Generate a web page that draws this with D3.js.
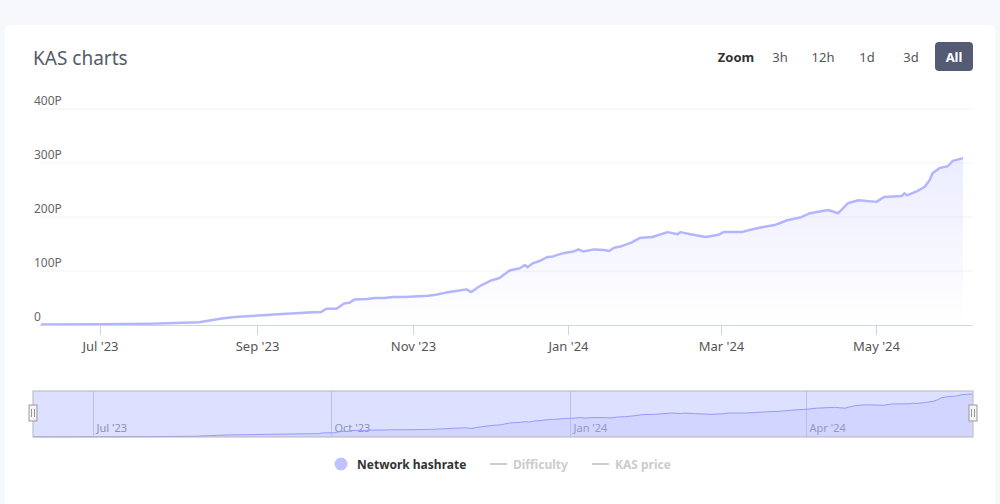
<!DOCTYPE html>
<html>
<head>
<meta charset="utf-8">
<script src="https://cdn.jsdelivr.net/npm/d3@7"></script>
<style>
  body { margin: 0; background: #f7f8fc; font-family: "Noto Sans", sans-serif; }
  svg { display: block; }
</style>
</head>
<body>
<div id="chart"></div>
<script>
// network hashrate, in P (peta) hashes per second
var dates = ["2023-06-08","2023-07-01","2023-07-21","2023-08-09","2023-08-18","2023-08-23","2023-09-03","2023-09-09",
  "2023-09-21","2023-09-26","2023-09-28","2023-10-02","2023-10-05","2023-10-07","2023-10-09","2023-10-14","2023-10-17",
  "2023-10-21","2023-10-24","2023-10-29","2023-11-07","2023-11-10","2023-11-14","2023-11-18","2023-11-22","2023-11-24",
  "2023-11-26","2023-11-28","2023-12-02","2023-12-05","2023-12-09","2023-12-13","2023-12-15","2023-12-16","2023-12-18",
  "2023-12-21","2023-12-24","2023-12-26","2023-12-30","2024-01-03","2024-01-05","2024-01-07","2024-01-11","2024-01-15",
  "2024-01-17","2024-01-19","2024-01-22","2024-01-26","2024-01-29","2024-02-03","2024-02-09","2024-02-13","2024-02-14",
  "2024-02-18","2024-02-24","2024-02-29","2024-03-02","2024-03-09","2024-03-13","2024-03-17","2024-03-22","2024-03-27",
  "2024-04-01","2024-04-05","2024-04-12","2024-04-16","2024-04-20","2024-04-24","2024-05-01","2024-05-04","2024-05-11",
  "2024-05-12","2024-05-13","2024-05-17","2024-05-20","2024-05-22","2024-05-23","2024-05-26","2024-05-29","2024-05-31",
  "2024-06-04"];
var hashrate = [1,1.5,2.5,5,12,15,18,20,
  23,24,30,30,40,41,47,48,50,
  50,52,52,54,56,60,63,66,61,
  68,74,83,87,101,105,111,107,114,
  119,126,127,133,136,140,136,140,139,
  137,143,146,153,161,163,172,168,172,
  168,163,167,172,172,177,181,185,194,
  199,207,213,207,226,231,228,237,239,
  244,240,248,256,269,281,291,294,304,
  309];

var yTicks = [0, 100, 200, 300, 400];
var xTicks = ["2023-07-01","2023-09-01","2023-11-01","2024-01-01","2024-03-01","2024-05-01"];
var navTicks = ["2023-07-01","2023-10-01","2024-01-01","2024-04-01"];
var zoomButtons = ["3h", "12h", "1d", "3d", "All"];
var legendItems = ["Network hashrate", "Difficulty", "KAS price"];

var parse = d3.timeParse("%Y-%m-%d");
var fmt = d3.timeFormat("%b '%y");
var data = dates.map(function(d, i) { return {date: parse(d), value: hashrate[i]}; });

var W = 1000, H = 504;
var svg = d3.select("#chart").append("svg").attr("width", W).attr("height", H);

// card
svg.append("rect").attr("x", 5).attr("y", 25).attr("width", 990).attr("height", 490)
    .attr("rx", 6).attr("fill", "#ffffff");

svg.append("text").attr("x", 33).attr("y", 65).text("KAS charts")
    .attr("font-size", 19).attr("fill", "#555a6b");

// zoom buttons
svg.append("text").attr("x", 736).attr("y", 62).attr("text-anchor", "middle")
    .attr("font-size", 13).attr("font-weight", "bold").attr("fill", "#333").text("Zoom");
var btnX = [780, 823, 867, 911, 954];
zoomButtons.forEach(function(b, i) {
  if (b === "All") {
    svg.append("rect").attr("x", btnX[i] - 19).attr("y", 42).attr("width", 38).attr("height", 29)
        .attr("rx", 4).attr("fill", "#555b73");
  }
  svg.append("text").attr("x", btnX[i]).attr("y", 62).attr("text-anchor", "middle")
      .attr("font-size", 13).attr("font-weight", b === "All" ? "bold" : "normal")
      .attr("fill", b === "All" ? "#fff" : "#555").text(b);
});

// main plot
var x = d3.scaleTime().domain(d3.extent(data, function(d) { return d.date; })).range([41, 963]);
var y = d3.scaleLinear().domain([0, 400]).range([325, 109]);

var gGrid = svg.append("g");
yTicks.forEach(function(t) {
  if (t > 0) {
    gGrid.append("line").attr("x1", 40).attr("x2", 973).attr("y1", y(t)).attr("y2", y(t))
        .attr("stroke", "#f2f2f4").attr("stroke-width", 1);
  }
  gGrid.append("text").attr("x", 34).attr("y", y(t) - 4).attr("font-size", 12)
      .attr("fill", "#666").text(t === 0 ? "0" : t + "P");
});

var defs = svg.append("defs");
var grad = defs.append("linearGradient").attr("id", "fillGrad").attr("x1", 0).attr("y1", 0).attr("x2", 0).attr("y2", 1);
grad.append("stop").attr("offset", "0%").attr("stop-color", "#c8caff").attr("stop-opacity", 0.35);
grad.append("stop").attr("offset", "100%").attr("stop-color", "#c8caff").attr("stop-opacity", 0);

var area = d3.area().x(function(d) { return x(d.date); }).y0(y(0)).y1(function(d) { return y(d.value); });
var line = d3.line().x(function(d) { return x(d.date); }).y(function(d) { return y(d.value); });

svg.append("path").datum(data).attr("d", area).attr("fill", "url(#fillGrad)");
svg.append("path").datum(data).attr("d", line).attr("fill", "none")
    .attr("stroke", "#b3b6ff").attr("stroke-width", 2.5).attr("stroke-linejoin", "round");

// x axis
svg.append("line").attr("x1", 40).attr("x2", 973).attr("y1", 325.5).attr("y2", 325.5)
    .attr("stroke", "#ccd6eb");
xTicks.forEach(function(t) {
  var px = Math.round(x(parse(t))) + 0.5;
  svg.append("line").attr("x1", px).attr("x2", px).attr("y1", 325).attr("y2", 335).attr("stroke", "#ccd6eb");
  svg.append("text").attr("x", px).attr("y", 351).attr("text-anchor", "middle")
      .attr("font-size", 13).attr("fill", "#555").text(fmt(parse(t)));
});

// navigator
var nx = d3.scaleTime().domain(x.domain()).range([33, 972]);
var ny = d3.scaleLinear().domain([0, d3.max(hashrate)]).range([437, 394]);
var nav = svg.append("g");
navTicks.forEach(function(t) {
  var px = Math.round(nx(parse(t))) + 0.5;
  nav.append("line").attr("x1", px).attr("x2", px).attr("y1", 391).attr("y2", 437).attr("stroke", "#d8d8e0");
  nav.append("text").attr("x", px + 3).attr("y", 432).attr("font-size", 11).attr("fill", "#999").text(fmt(parse(t)));
});
var navArea = d3.area().x(function(d) { return nx(d.date); }).y0(437).y1(function(d) { return ny(d.value); });
var navLine = d3.line().x(function(d) { return nx(d.date); }).y(function(d) { return ny(d.value); });
nav.append("path").datum(data).attr("d", navArea).attr("fill", "#c3c6ff").attr("fill-opacity", 0.25);
nav.append("path").datum(data).attr("d", navLine).attr("fill", "none").attr("stroke", "#a3a8f7").attr("stroke-width", 1);
nav.append("rect").attr("x", 33).attr("y", 391).attr("width", 940).attr("height", 46)
    .attr("fill", "#6670ff").attr("fill-opacity", 0.22);
nav.append("rect").attr("x", 33).attr("y", 391).attr("width", 940).attr("height", 46)
    .attr("fill", "none").attr("stroke", "#b5b5bd").attr("stroke-width", 1);
[33, 973].forEach(function(hx) {
  nav.append("rect").attr("x", hx - 4).attr("y", 405).attr("width", 8).attr("height", 16)
      .attr("fill", "#f4f4f4").attr("stroke", "#999").attr("stroke-width", 1);
  nav.append("line").attr("x1", hx - 1.5).attr("x2", hx - 1.5).attr("y1", 409).attr("y2", 417).attr("stroke", "#999");
  nav.append("line").attr("x1", hx + 1.5).attr("x2", hx + 1.5).attr("y1", 409).attr("y2", 417).attr("stroke", "#999");
});

// legend
var legX = [341, 490, 592];
legendItems.forEach(function(name, i) {
  var g = svg.append("g");
  if (i === 0) {
    g.append("circle").attr("cx", legX[i]).attr("cy", 464).attr("r", 6.5).attr("fill", "#bfc2ff");
    g.append("text").attr("x", legX[i] + 16).attr("y", 469).attr("font-size", 12)
        .attr("font-weight", "bold").attr("fill", "#333").text(name);
  } else {
    g.append("line").attr("x1", legX[i]).attr("x2", legX[i] + 17).attr("y1", 464).attr("y2", 464)
        .attr("stroke", "#ccc").attr("stroke-width", 2);
    g.append("text").attr("x", legX[i] + 23).attr("y", 469).attr("font-size", 12)
        .attr("font-weight", "bold").attr("fill", "#ccc").text(name);
  }
});
</script>
</body>
</html>
